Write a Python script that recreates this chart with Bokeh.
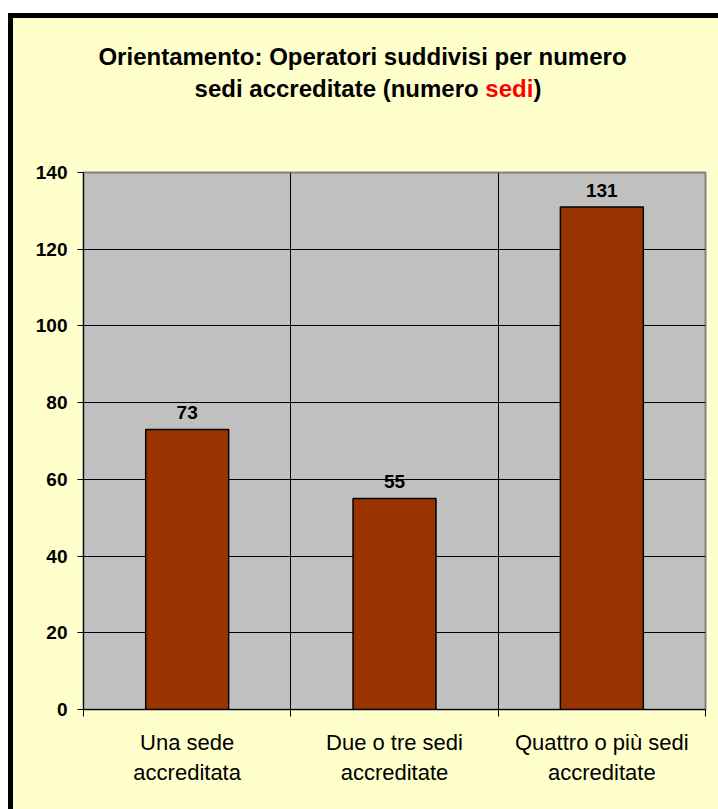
from bokeh.plotting import figure
from bokeh.models import Range1d, FixedTicker, ColumnDataSource, Div
from bokeh.layouts import column
from bokeh.core.properties import value
from bokeh.embed import file_html
from bokeh.resources import INLINE

categories = ["Una sede\naccreditata", "Due o tre sedi\naccreditate", "Quattro o più sedi\naccreditate"]
counts = [73, 55, 131]
y_ticks = [0, 20, 40, 60, 80, 100, 120, 140]
title_line1 = "Orientamento: Operatori suddivisi per numero"
title_line2_a = "sedi accreditate (numero "
title_line2_b = "sedi"
title_line2_c = ")"

FONT = "Liberation Sans"
BG = "#FFFFCC"

xs = [i + 0.5 for i in range(len(categories))]
src = ColumnDataSource(dict(x=xs, y=counts, lbl=[str(v) for v in counts]))

W = 705          # canvas width (inside the 5px border)
TITLE_H = 134
FIG_H = 791 - TITLE_H
ML, MR, MT, MB = 70, 13, 20, 100

line_css = "display:block;white-space:nowrap;text-align:center;height:32.3px;"
title_html = (
    f'<div style="font-family:\'{FONT}\';font-weight:bold;font-size:24px;'
    f'line-height:32.3px;width:{W}px;box-sizing:border-box;padding-top:22.7px;'
    f'color:#000000;margin:0;">'
    f'<div style="{line_css}padding-right:6px;">{title_line1}</div>'
    f'<div style="{line_css}padding-left:5px;">{title_line2_a}'
    f'<span style="color:#FF0000;">{title_line2_b}</span>{title_line2_c}</div>'
    f'</div>'
)
title = Div(text=title_html, width=W, height=TITLE_H,
            styles={"background-color": BG, "margin": "0", "padding": "0"})

p = figure(width=W, height=FIG_H, x_range=Range1d(0, len(categories)),
           y_range=Range1d(0, 140), output_backend="svg", toolbar_location=None,
           min_border_left=ML, min_border_right=MR, min_border_top=MT,
           min_border_bottom=MB)
p.background_fill_color = "#C0C0C0"
p.border_fill_color = BG
p.outline_line_color = "#808080"
p.outline_line_width = 2

p.vbar(x="x", top="y", width=0.4, source=src, fill_color="#993300",
       line_color="black", line_width=1.5)
p.text(x="x", y="y", text="lbl", source=src, y_offset=-17,
       text_align="center", text_baseline="alphabetic",
       text_font=value(FONT), text_font_style="bold", text_font_size="19px",
       text_color="black")

# x axis
xt = FixedTicker(ticks=xs, minor_ticks=list(range(len(categories) + 1)))
p.xaxis.ticker = xt
p.xaxis.major_label_overrides = {x: c for x, c in zip(xs, categories)}
p.xaxis.major_tick_line_color = None
p.xaxis.minor_tick_line_color = "black"
p.xaxis.minor_tick_out = 7
p.xaxis.minor_tick_in = 0
p.xaxis.axis_line_color = "black"
p.xaxis.major_label_text_font = FONT
p.xaxis.major_label_text_font_size = "22px"
p.xaxis.major_label_text_color = "black"
p.xaxis.major_label_text_line_height = 1.2
p.xaxis.major_label_standoff = 13

p.xgrid.ticker = xt
p.xgrid.grid_line_color = None
p.xgrid.minor_grid_line_color = "black"
p.xgrid.minor_grid_line_width = 1

# y axis
p.yaxis.ticker = FixedTicker(ticks=y_ticks)
p.yaxis.minor_tick_line_color = None
p.yaxis.major_tick_out = 6
p.yaxis.major_tick_in = 0
p.yaxis.major_tick_line_color = "black"
p.yaxis.axis_line_color = "black"
p.yaxis.major_label_text_font = FONT
p.yaxis.major_label_text_font_style = "bold"
p.yaxis.major_label_text_font_size = "19px"
p.yaxis.major_label_text_color = "black"
p.yaxis.major_label_standoff = 10
p.ygrid.grid_line_color = "black"
p.ygrid.grid_line_width = 1

layout = column(title, p, spacing=0,
                styles={"margin-left": "8px", "margin-top": "13px",
                        "border-left": "5px solid black",
                        "border-top": "5px solid black",
                        "background-color": BG})

open("out.html", "w").write(file_html(layout, INLINE))
